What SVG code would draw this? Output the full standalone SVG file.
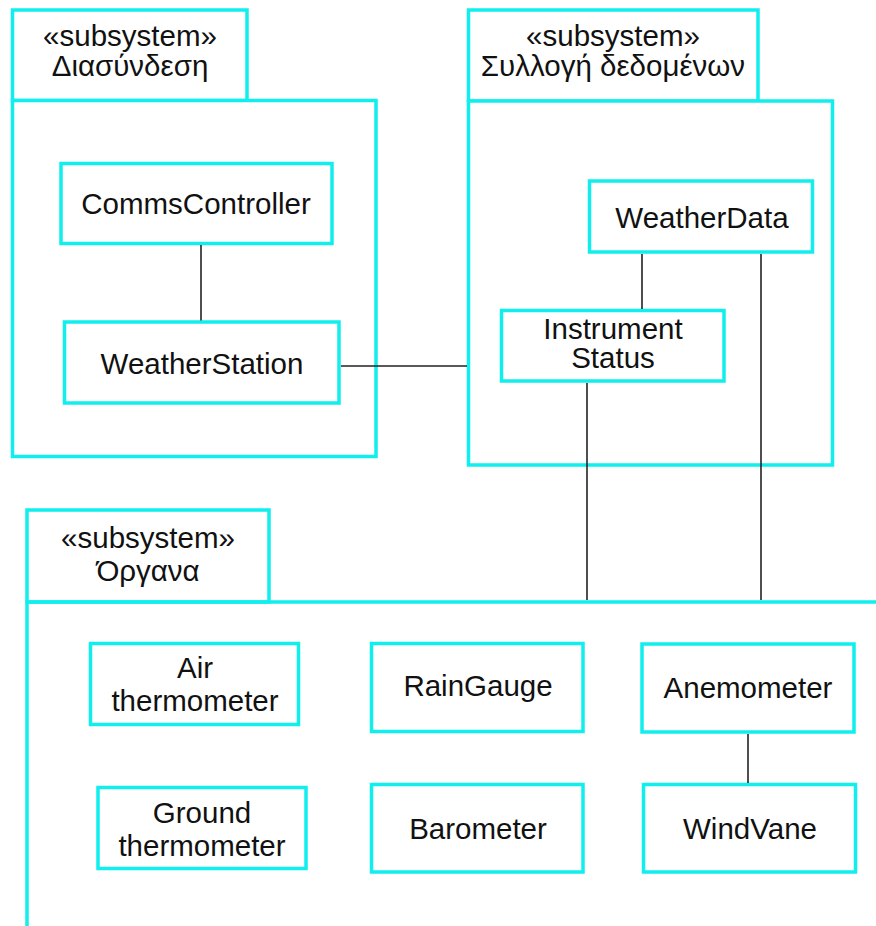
<svg xmlns="http://www.w3.org/2000/svg" width="876" height="926" viewBox="0 0 876 926">
<style>
.box{fill:#fff;stroke:#11EEEE;stroke-width:3.5}
.open{fill:none;stroke:#11EEEE;stroke-width:3.5}
.conn{stroke:#222;stroke-width:1.6;fill:none}
text{font-family:"Liberation Sans",Arial,sans-serif;font-size:29.5px;fill:#111;text-anchor:middle}
</style>
<rect width="876" height="926" fill="#fff"/>
<g id="pkg-diasyndesi">
<rect class="box" x="12.5" y="10" width="234.5" height="90.5"/>
<rect class="box" x="12.5" y="100.5" width="363.5" height="356"/>
<text x="130" y="46">«subsystem»</text>
<text x="130" y="76">Διασύνδεση</text>
</g>
<g id="pkg-syllogi">
<rect class="box" x="468.5" y="10" width="289.5" height="91"/>
<rect class="box" x="468.5" y="101" width="364" height="364"/>
<text x="613" y="46">«subsystem»</text>
<text x="613" y="76">Συλλογή δεδομένων</text>
</g>
<g id="pkg-organa">
<rect class="box" x="27" y="510" width="242" height="92"/>
<path class="open" d="M27 926V602H876"/>
<text x="148" y="548">«subsystem»</text>
<text x="148" y="581">Όργανα</text>
</g>
<g id="CommsController">
<rect class="box" x="61" y="163.5" width="271" height="80"/>
<text x="196" y="214">CommsController</text>
</g>
<g id="WeatherStation">
<rect class="box" x="64.5" y="322" width="274.5" height="81"/>
<text x="202" y="374">WeatherStation</text>
</g>
<g id="WeatherData">
<rect class="box" x="589.5" y="181" width="223" height="71"/>
<text x="702" y="228">WeatherData</text>
</g>
<g id="InstrumentStatus">
<rect class="box" x="501.5" y="310.5" width="222.5" height="70.5"/>
<text x="613" y="339">Instrument</text>
<text x="613" y="368">Status</text>
</g>
<g id="AirThermometer">
<rect class="box" x="90.5" y="643.5" width="208" height="81"/>
<text x="195" y="678">Air</text>
<text x="195" y="711">thermometer</text>
</g>
<g id="GroundThermometer">
<rect class="box" x="98" y="787.5" width="208" height="81"/>
<text x="202" y="823">Ground</text>
<text x="202" y="856">thermometer</text>
</g>
<g id="RainGauge">
<rect class="box" x="371.5" y="643.5" width="211.5" height="88"/>
<text x="478" y="696">RainGauge</text>
</g>
<g id="Barometer">
<rect class="box" x="371.5" y="784.5" width="211.5" height="87.5"/>
<text x="478" y="839">Barometer</text>
</g>
<g id="Anemometer">
<rect class="box" x="642" y="644" width="212" height="88"/>
<text x="748" y="698">Anemometer</text>
</g>
<g id="WindVane">
<rect class="box" x="643.5" y="784.5" width="212" height="87.5"/>
<text x="750" y="839">WindVane</text>
</g>
<g id="connectors">
<line class="conn" x1="201" y1="245" x2="201" y2="320.5"/>
<line class="conn" x1="341" y1="366" x2="467" y2="366"/>
<line class="conn" x1="642" y1="254" x2="642" y2="309"/>
<line class="conn" x1="587" y1="383" x2="587" y2="600"/>
<line class="conn" x1="761" y1="254" x2="761" y2="600"/>
<line class="conn" x1="748" y1="734" x2="748" y2="783"/>
</g>
</svg>
